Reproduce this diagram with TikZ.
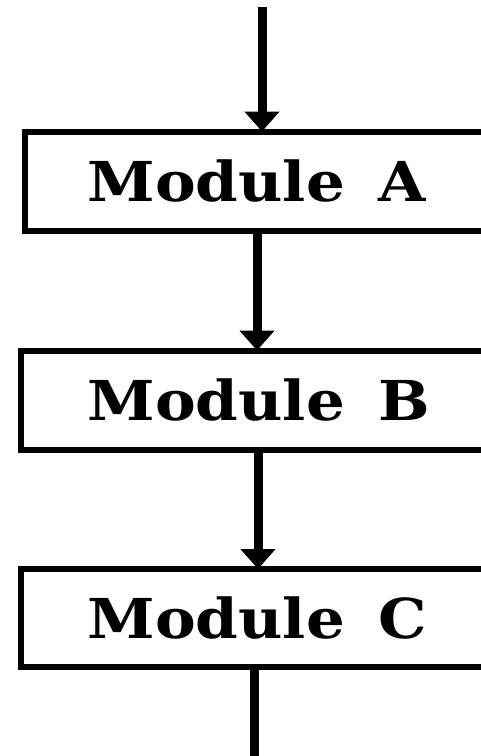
\documentclass[tikz,border=0pt]{standalone}
\usepackage{fontspec}
\setmainfont{DejaVu Serif}
\usetikzlibrary{arrows.meta}
\newcommand{\modlabel}[1]{\scalebox{1.11}[1]{Module\hspace{0.55em}#1}}
\begin{document}
\begin{tikzpicture}[x=1pt,y=-1pt,
  module/.style={draw, rectangle, line width=6pt, outer sep=0pt,
    anchor=north west, inner ysep=0pt, text width=420pt, align=left,
    font=\fontsize{55}{60}\selectfont\bfseries},
  flow/.style={line width=9pt},
  into/.style={flow, -{Triangle[width=34pt,length=20pt]}}]
\useasboundingbox (0,0) rectangle (481,756);
\clip (0,0) rectangle (481,756);

% the three stacked modules
\node[module, inner xsep=63pt, minimum height=99pt] (A) at (24.5,131.5) {\modlabel{A}};
\node[module, inner xsep=67pt, minimum height=99.5pt] (B) at (20.5,350.5) {\modlabel{B}};
\node[module, inner xsep=67pt, minimum height=98pt] (C) at (20.5,569) {\modlabel{C}};

% entry and exit points of the flow
\coordinate (in) at (262,7);
\coordinate (out) at (254,760);

% connectors
\draw[into] (in) -- (in |- A.north);
\draw[into] (A.south -| 257,0) -- (B.north -| 257,0);
\draw[into] (B.south -| 258,0) -- (C.north -| 258,0);
\draw[flow] (C.south -| out) -- (out);
\end{tikzpicture}
\end{document}
